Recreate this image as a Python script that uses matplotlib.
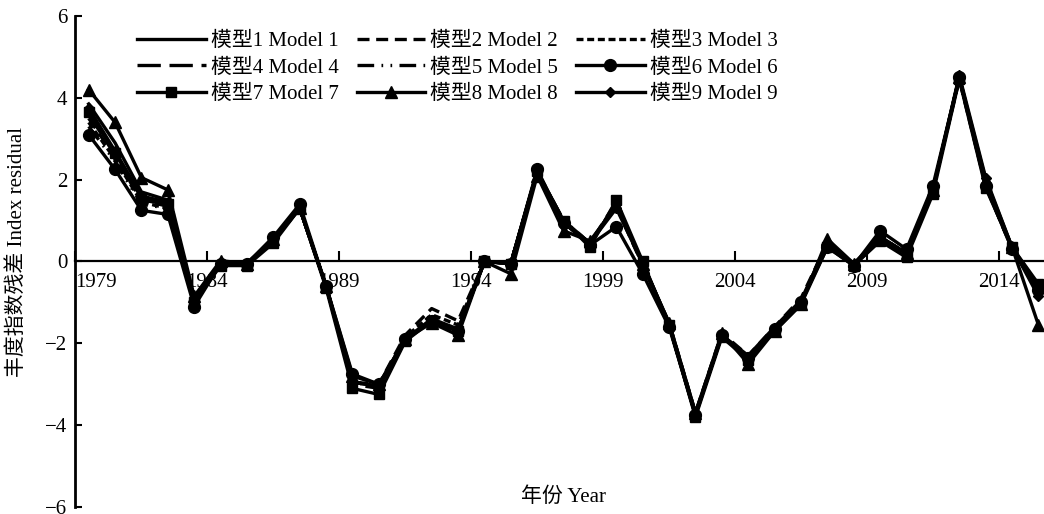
import numpy as np
import matplotlib
matplotlib.use('Agg')
from matplotlib import pyplot as plt

plt.rcParams['font.family'] = ['Liberation Serif', 'Noto Sans CJK SC']
plt.rcParams['font.size'] = 15
plt.rcParams['axes.unicode_minus'] = True

years = np.arange(1979, 2016)

model1 = [3.85, 2.9, 1.7, 1.5, -0.95, -0.05, -0.05, 0.55, 1.3, -0.6, -2.95, -3.05, -1.9, -1.4, -1.65, 0.0, -0.05, 2.15, 0.95, 0.45, 1.4, -0.05, -1.5, -3.7, -1.8, -2.3, -1.6, -0.95, 0.45, -0.1, 0.55, 0.2, 1.75, 4.5, 1.9, 0.35, -0.6]
model2 = [3.5, 2.55, 1.5, 1.35, -1.0, -0.05, -0.05, 0.5, 1.3, -0.6, -2.95, -3.0, -1.8, -1.15, -1.45, 0.0, -0.05, 2.15, 0.95, 0.45, 1.35, -0.1, -1.5, -3.7, -1.75, -2.3, -1.6, -0.9, 0.45, -0.05, 0.6, 0.2, 1.75, 4.45, 1.85, 0.3, -0.7]
model3 = [3.4, 2.5, 1.45, 1.3, -1.0, -0.05, -0.05, 0.5, 1.3, -0.6, -2.95, -3.05, -1.85, -1.3, -1.55, 0.0, -0.05, 2.2, 0.95, 0.45, 1.4, -0.05, -1.55, -3.75, -1.8, -2.35, -1.65, -1.0, 0.4, -0.1, 0.55, 0.2, 1.75, 4.5, 1.9, 0.3, -0.65]
model4 = [3.6, 2.6, 1.5, 1.4, -1.0, -0.05, -0.05, 0.55, 1.3, -0.6, -3.0, -3.1, -1.9, -1.45, -1.7, 0.0, -0.05, 2.2, 1.0, 0.45, 1.45, -0.05, -1.55, -3.75, -1.8, -2.35, -1.65, -1.0, 0.45, -0.1, 0.6, 0.2, 1.75, 4.5, 1.9, 0.35, -0.65]
model5 = [3.3, 2.45, 1.4, 1.3, -1.05, -0.05, -0.05, 0.55, 1.3, -0.6, -2.95, -3.05, -1.9, -1.45, -1.7, 0.0, -0.05, 2.2, 1.0, 0.45, 1.4, -0.1, -1.55, -3.75, -1.8, -2.35, -1.65, -1.0, 0.4, -0.1, 0.55, 0.2, 1.75, 4.5, 1.9, 0.3, -0.7]
model6 = [3.1, 2.25, 1.25, 1.15, -1.1, -0.05, -0.05, 0.6, 1.4, -0.6, -2.75, -3.0, -1.9, -1.45, -1.7, 0.0, -0.05, 2.25, 0.95, 0.4, 0.85, -0.3, -1.6, -3.75, -1.8, -2.35, -1.65, -1.0, 0.35, -0.1, 0.75, 0.3, 1.85, 4.5, 1.85, 0.3, -0.7]
model7 = [3.65, 2.65, 1.55, 1.4, -1.0, -0.1, -0.1, 0.45, 1.3, -0.65, -3.1, -3.25, -1.95, -1.45, -1.7, 0.0, -0.05, 2.2, 1.0, 0.35, 1.5, 0.0, -1.55, -3.8, -1.85, -2.4, -1.7, -1.05, 0.35, -0.1, 0.5, 0.1, 1.65, 4.45, 1.8, 0.35, -0.55]
model8 = [4.2, 3.4, 2.05, 1.75, -0.85, 0.02, -0.05, 0.55, 1.3, -0.6, -2.8, -3.0, -1.9, -1.5, -1.8, 0.0, -0.3, 2.1, 0.75, 0.5, 1.35, -0.05, -1.5, -3.7, -1.75, -2.5, -1.7, -1.05, 0.55, -0.05, 0.6, 0.2, 1.75, 4.5, 2.0, 0.35, -1.55]
model9 = [3.75, 2.7, 1.6, 1.45, -0.95, -0.05, -0.05, 0.55, 1.3, -0.6, -2.95, -3.05, -1.9, -1.45, -1.7, 0.0, -0.05, 2.2, 0.95, 0.45, 1.3, -0.05, -1.55, -3.75, -1.8, -2.35, -1.65, -1.0, 0.45, -0.1, 0.6, 0.2, 1.75, 4.55, 2.05, 0.35, -0.85]

series = [model1, model2, model3, model4, model5, model6, model7, model8, model9]
labels = ['模型%d Model %d' % (k, k) for k in range(1, 10)]
styles = [
    dict(ls='-'),
    dict(ls=(0, (3.6, 2.0))),
    dict(ls=(0, (2.1, 1.1))),
    dict(ls=(0, (7, 2.6))),
    dict(ls=(0, (5, 2.2, 0.5, 2.2, 0.5, 2.2))),
    dict(ls='-', marker='o', ms=8.5),
    dict(ls='-', marker='s', ms=7.5),
    dict(ls='-', marker='^', ms=8.5),
    dict(ls='-', marker='D', ms=5.5),
]

fig = plt.figure(figsize=(10.44, 5.14), dpi=100)
ax = fig.add_axes([0.0723, 0.0136, 0.935, 0.9553])

x = years + 0.5  # points sit in the middle of each year slot
lines = []
for vals, lab, st in zip(series, labels, styles):
    ln, = ax.plot(x, vals, color='black', lw=2.4, label=lab, **st)
    lines.append(ln)

ax.set_xlim(1979, 2016)
ax.set_ylim(-6, 6)
ax.set_yticks([-6, -4, -2, 0, 2, 4, 6])
ticks = [1979, 1984, 1989, 1994, 1999, 2004, 2009, 2014]
ax.set_xticks(ticks)
ax.set_xticklabels([str(t) for t in ticks])

ax.spines['top'].set_visible(False)
ax.spines['right'].set_visible(False)
ax.spines['bottom'].set_position(('data', 0))
ax.spines['left'].set_linewidth(2.0)
ax.spines['bottom'].set_linewidth(1.6)
ax.tick_params(axis='x', direction='in', length=7, width=1.5, pad=8, labelsize=15)
ax.tick_params(axis='y', direction='in', length=5, width=1.5, pad=6, labelsize=15)

ax.set_ylabel('丰度指数残差 Index residual', fontsize=15)
ax.yaxis.set_label_coords(-0.05, 0.52)
ax.text(0.5, 0.02, '年份 Year', transform=ax.transAxes, ha='center', va='center', fontsize=15)

order = [0, 3, 6, 1, 4, 7, 2, 5, 8]
ax.legend([lines[i] for i in order], [labels[i] for i in order], ncol=3, frameon=False,
          loc='upper left', bbox_to_anchor=(0.063, 0.968), handlelength=3.3,
          handletextpad=0.25, columnspacing=0.85, labelspacing=0.33, borderpad=0,
          borderaxespad=0, fontsize=15)

fig.canvas.draw()
# first year label starts at the axis instead of being centred on it
ax.xaxis.get_major_ticks()[0].label1.set_horizontalalignment('left')

fig.savefig('out.png', dpi=100)
